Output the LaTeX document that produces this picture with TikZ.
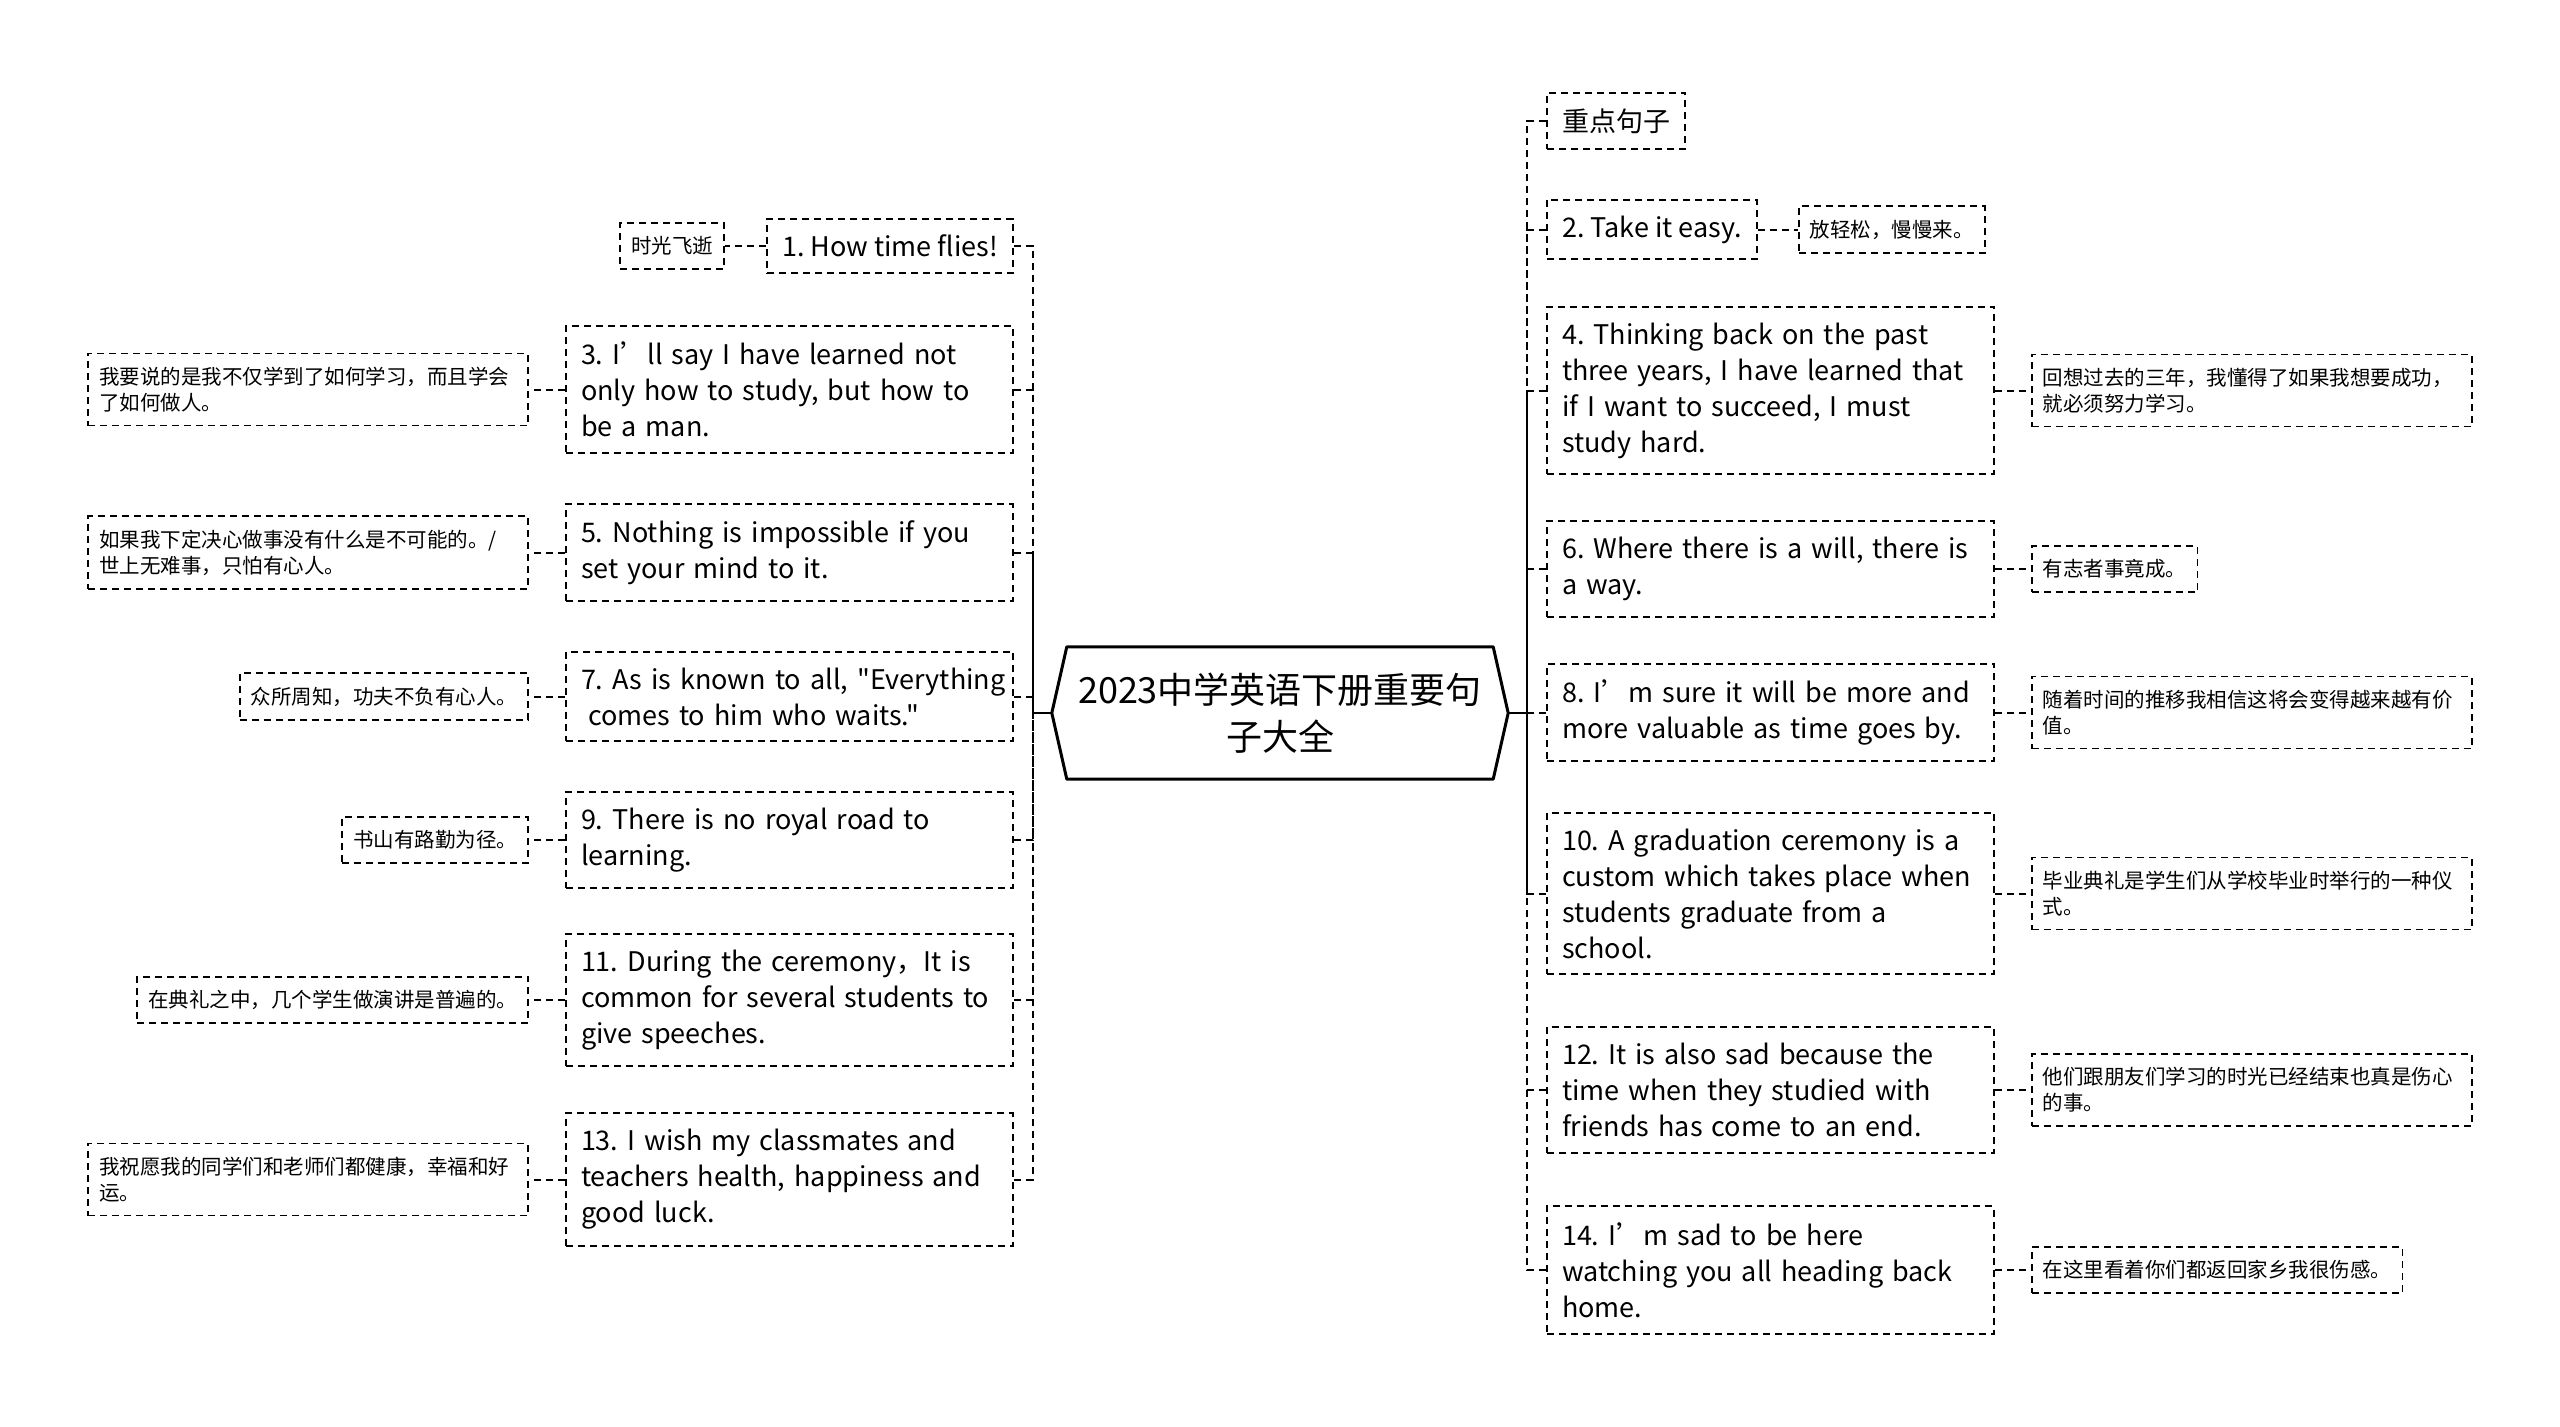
\documentclass[tikz,border=0pt]{standalone}
\usepackage{fontspec}
\setmainfont{Noto Sans CJK SC}[Ligatures=TeXOff]
\usetikzlibrary{positioning}
\frenchspacing

\tikzset{
  box/.style={draw, line width=2pt, dash pattern=on 7pt off 5pt, inner xsep=15pt, inner ysep=16pt,
    align=left, font=\fontsize{27}{36}\selectfont},
  widebox/.style={box, text width=417pt},
  note/.style={draw, line width=1.8pt, dash pattern=on 7pt off 5pt, inner xsep=11pt, inner ysep=13.5pt,
    align=left, font=\fontsize{20.5}{26}\selectfont},
  widenote/.style={note, text width=418pt},
  link/.style={line width=2pt, dash pattern=on 7pt off 5pt},
}

\begin{document}
\begin{tikzpicture}[x=1pt, y=-1pt]
    \useasboundingbox (0,0) rectangle (2560,1427);

    % centre
    \node (root) [minimum width=456pt, minimum height=132pt, align=center, font=\fontsize{36}{47}\selectfont]
        at (1280,713) {2023中学英语下册重要句\\子大全};
    \draw[line width=3pt, line join=round] (root.west) -- ([xshift=15pt]root.north west) -- ([xshift=-15pt]root.north east)
        -- (root.east) -- ([xshift=-15pt]root.south east) -- ([xshift=15pt]root.south west) -- cycle;
    \coordinate (lhub) at ([xshift=-19pt]root.west);
    \coordinate (rhub) at ([xshift=19pt]root.east);

    % left side
    \node[box, anchor=east] (b1) at (1014,246) {1. How time flies!};
    \node[widebox, anchor=east] (b3) at (1014,389.5) {3. I’ll say I have learned not\\only how to study, but how to\\be a man.};
    \node[widebox, anchor=east] (b5) at (1014,552.5) {5. Nothing is impossible if you\\set your mind to it.};
    \node[widebox, anchor=east] (b7) at (1014,696.5) {\mbox{7. As is known to all, "Everything}\\\hspace*{7pt}comes to him who waits."};
    \node[widebox, anchor=east] (b9) at (1014,840) {9. There is no royal road to\\learning.};
    \node[widebox, anchor=east] (b11) at (1014,1000) {11. During the ceremony，It is\\common for several students to\\give speeches.};
    \node[widebox, anchor=east] (b13) at (1014,1179.5) {13. I wish my classmates and\\teachers health, happiness and\\good luck.};

    \node[note, anchor=east] (n1) at (725,246) {时光飞逝};
    \node[widenote, anchor=east] (n3) at (529,389.5) {我要说的是我不仅学到了如何学习，而且学会\\了如何做人。};
    \node[widenote, anchor=east] (n5) at (529,552.5) {如果我下定决心做事没有什么是不可能的。/\\世上无难事，只怕有心人。};
    \node[note, anchor=east] (n7) at (529,696.5) {众所周知，功夫不负有心人。};
    \node[note, anchor=east] (n9) at (529,840) {书山有路勤为径。};
    \node[note, anchor=east] (n11) at (529,1000) {在典礼之中，几个学生做演讲是普遍的。};
    \node[widenote, anchor=east] (n13) at (529,1179.5) {我祝愿我的同学们和老师们都健康，幸福和好\\运。};

    % right side
    \node[box, anchor=west] (head) at (1546,121) {重点句子};
    \node[box, anchor=west] (b2) at (1546,229.5) {2. Take it easy.};
    \node[widebox, anchor=west] (b4) at (1546,390.5) {4. Thinking back on the past\\three years, I have learned that\\if I want to succeed, I must\\study hard.};
    \node[widebox, anchor=west] (b6) at (1546,569) {6. Where there is a will, there is\\a way.};
    \node[widebox, anchor=west] (b8) at (1546,712.5) {8. I’m sure it will be more and\\more valuable as time goes by.};
    \node[widebox, anchor=west] (b10) at (1546,893.5) {10. A graduation ceremony is a\\custom which takes place when\\students graduate from a\\school.};
    \node[widebox, anchor=west] (b12) at (1546,1090) {12. It is also sad because the\\time when they studied with\\friends has come to an end.};
    \node[widebox, anchor=west] (b14) at (1546,1270) {14. I’m sad to be here\\watching you all heading back\\home.};

    \node[note, anchor=west] (n2) at (1798,229.5) {放轻松，慢慢来。};
    \node[widenote, anchor=west] (n4) at (2031,390.5) {回想过去的三年，我懂得了如果我想要成功，\\就必须努力学习。};
    \node[note, anchor=west] (n6) at (2031,569) {有志者事竟成。};
    \node[widenote, anchor=west] (n8) at (2031,712.5) {随着时间的推移我相信这将会变得越来越有价\\值。};
    \node[widenote, anchor=west] (n10) at (2031,893.5) {毕业典礼是学生们从学校毕业时举行的一种仪\\式。};
    \node[widenote, anchor=west] (n12) at (2031,1090) {他们跟朋友们学习的时光已经结束也真是伤心\\的事。};
    \node[note, anchor=west] (n14) at (2031,1270) {在这里看着你们都返回家乡我很伤感。};

    % connectors
    \draw[link] (b1.east) -| (lhub) -- (root.west);
    \draw[link] (b3.east) -| (lhub) -- (root.west);
    \draw[link] (b5.east) -| (lhub) -- (root.west);
    \draw[link] (b7.east) -| (lhub) -- (root.west);
    \draw[link] (b9.east) -| (lhub) -- (root.west);
    \draw[link] (b11.east) -| (lhub) -- (root.west);
    \draw[link] (b13.east) -| (lhub) -- (root.west);
    \draw[link] (head.west) -| (rhub) -- (root.east);
    \draw[link] (b2.west) -| (rhub) -- (root.east);
    \draw[link] (b4.west) -| (rhub) -- (root.east);
    \draw[link] (b6.west) -| (rhub) -- (root.east);
    \draw[link] (b8.west) -| (rhub) -- (root.east);
    \draw[link] (b10.west) -| (rhub) -- (root.east);
    \draw[link] (b12.west) -| (rhub) -- (root.east);
    \draw[link] (b14.west) -| (rhub) -- (root.east);

    \draw[link] (b1.west) -- (n1.east);
    \draw[link] (b3.west) -- (n3.east);
    \draw[link] (b5.west) -- (n5.east);
    \draw[link] (b7.west) -- (n7.east);
    \draw[link] (b9.west) -- (n9.east);
    \draw[link] (b11.west) -- (n11.east);
    \draw[link] (b13.west) -- (n13.east);
    \draw[link] (b2.east) -- (n2.west);
    \draw[link] (b4.east) -- (n4.west);
    \draw[link] (b6.east) -- (n6.west);
    \draw[link] (b8.east) -- (n8.west);
    \draw[link] (b10.east) -- (n10.west);
    \draw[link] (b12.east) -- (n12.west);
    \draw[link] (b14.east) -- (n14.west);
\end{tikzpicture}
\end{document}
